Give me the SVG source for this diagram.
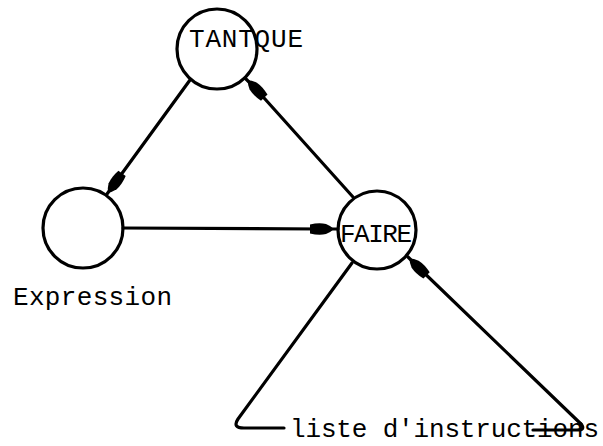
<svg xmlns="http://www.w3.org/2000/svg" width="603" height="446" viewBox="0 0 603 446">
<style>
.node circle{fill:none;stroke:#000;stroke-width:3.2}
.lbl{font-family:"Liberation Mono","Courier New",monospace;font-size:26px;fill:#000}
.conn path{fill:none;stroke:#000;stroke-width:3.2;stroke-linecap:round;stroke-linejoin:round}
.arr{marker-mid:url(#ah)}
</style>
<defs>
<marker id="ah" markerUnits="userSpaceOnUse" markerWidth="28" markerHeight="16" refX="12" refY="8" orient="auto" viewBox="0 0 28 16" overflow="visible">
<path d="M0,3.5 Q9,1.5 16,3 Q21,5 24,8 Q21,11 16,13 Q9,14.5 0,12.5 Z" fill="#000"/>
</marker>
</defs>
<rect width="603" height="446" fill="#fff"/>
<g id="connectors" class="conn">
<path class="arr" d="M190,80 L115,183 L107,194"/>
<path class="arr" d="M353,197 L256,89 L245,78"/>
<path class="arr" d="M123,228 L322,229 L338,229"/>
<path d="M352,263 L238,419 Q232,428 244,428 L284,428"/>
<path class="arr" d="M581,424 L418,267 L408,257"/>
<path d="M533,430 L577,430 Q586,430 581,424"/>
</g>
<g id="tantque" class="node">
<circle cx="217" cy="49" r="40"/>
<text class="lbl" x="189" y="47" textLength="114">TANTQUE</text>
</g>
<g id="expression" class="node">
<circle cx="83" cy="228" r="40"/>
<text class="lbl" x="13" y="305" textLength="159">Expression</text>
</g>
<g id="faire" class="node">
<circle cx="377" cy="230" r="39"/>
<text class="lbl" x="340" y="242" textLength="72">FAIRE</text>
</g>
<g id="liste">
<text class="lbl" x="290" y="437" textLength="309">liste d'instructions</text>
</g>
</svg>
